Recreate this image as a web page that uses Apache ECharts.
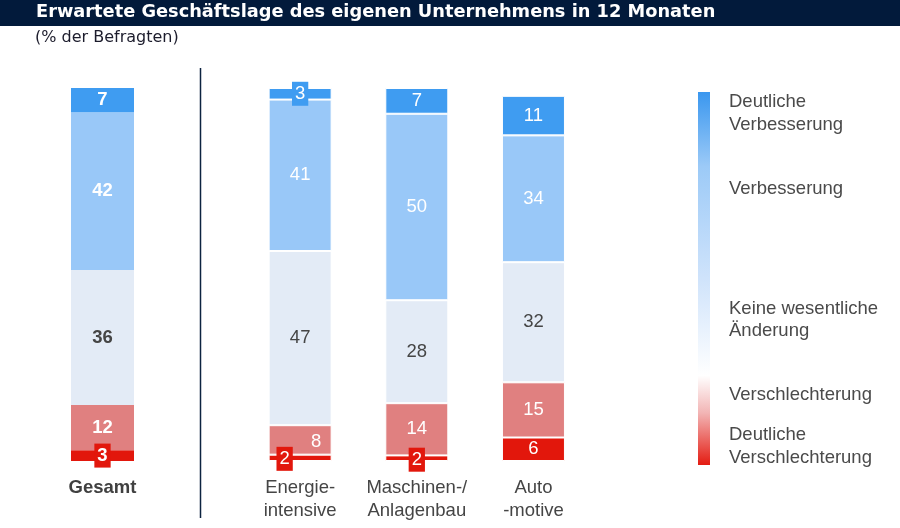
<!DOCTYPE html>
<html>
<head>
<meta charset="utf-8">
<script src="https://cdn.jsdelivr.net/npm/echarts@6/dist/echarts.min.js"></script>
<style>
  html, body { margin: 0; padding: 0; background: #fff; }
  #main { width: 900px; height: 528px; }
</style>
</head>
<body>
<div id="main"></div>
<script>
// categories: first is the overall bar, rest are the branches
var gesamtCategory = ['Gesamt'];
var branchCategories = ['Energie-\nintensive', 'Maschinen-/\nAnlagenbau', 'Auto\n-motive'];

// shares in % (Gesamt, Energieintensive, Maschinen-/Anlagenbau, Automotive)
var deutlichSchlechter = [2.9, 1.7, 1.5, 6.3];
var schlechter = [12.1, 7.9, 14.0, 14.8];
var keineAenderung = [36.2, 46.7, 27.6, 32.2];
var besser = [42.3, 40.6, 50.0, 34.0];
var deutlichBesser = [6.5, 3.1, 6.9, 10.6];

var legendLabels = ['Deutliche\nVerbesserung', 'Verbesserung', 'Keine wesentliche\nÄnderung', 'Verschlechterung', 'Deutliche\nVerschlechterung'];

var FONT = '"Liberation Sans", Arial, sans-serif';
var TITLE_FONT = '"DejaVu Sans", sans-serif';

var levels = [
    { key: 'ds', name: 'Deutliche Verschlechterung', data: deutlichSchlechter, color: '#e2170c', text: '#fff' },
    { key: 's', name: 'Verschlechterung', data: schlechter, color: '#e08080', text: '#fff' },
    { key: 'k', name: 'Keine wesentliche Änderung', data: keineAenderung, color: '#e3ebf6', text: '#454545' },
    { key: 'b', name: 'Verbesserung', data: besser, color: '#99c8f8', text: '#fff' },
    { key: 'db', name: 'Deutliche Verbesserung', data: deutlichBesser, color: '#3f9cf1', text: '#fff' }
];

// a few labels sit off-centre in the original
var labelOffsets = { 'ds-1': [-15.5, 1], 'ds-2': [0, 1.5], 's-1': [16, 2] };

var chart = echarts.init(document.getElementById('main'));

var makeItem = (lvl, i, bold) => {
    var v = lvl.data[i];
    var label = {
        show: true,
        position: 'inside',
        color: lvl.text,
        fontSize: 18.5,
        fontFamily: FONT,
        fontWeight: bold ? 'bold' : 'normal',
        formatter: () => String(Math.round(v))
    };
    if (v < 4) {
        label.backgroundColor = lvl.color;
        label.padding = [3, 3, 2, 3];
    }
    var off = labelOffsets[lvl.key + '-' + i];
    if (off) label.offset = off;
    return { value: v, label: label };
};

var series = [];
levels.forEach(lvl => {
    series.push({
        name: lvl.name,
        type: 'bar',
        stack: 'g',
        xAxisIndex: 0,
        yAxisIndex: 0,
        barWidth: 63,
        itemStyle: { color: lvl.color },
        data: [makeItem(lvl, 0, true)]
    });
    series.push({
        name: lvl.name,
        type: 'bar',
        stack: 'b',
        xAxisIndex: 1,
        yAxisIndex: 1,
        barWidth: 63,
        itemStyle: { color: lvl.color, borderColor: '#fff', borderWidth: 1 },
        data: [1, 2, 3].map(i => makeItem(lvl, i, false))
    });
});

var axisLabelBase = {
    fontSize: 18.5,
    fontFamily: FONT,
    lineHeight: 22.5,
    margin: 16,
    interval: 0
};

var legendText = [];
var ly = [113.5, 189, 320, 395, 446.5];
legendLabels.forEach((t, i) => {
    legendText.push({
        type: 'text',
        left: 729,
        top: ly[i] - (t.indexOf('\n') >= 0 ? 22.5 : 11.25),
        style: { text: t, fill: '#4a4a4a', font: '18.5px ' + FONT, lineHeight: 22.5 }
    });
});

var option = {
    animation: false,
    grid: [
        { left: 40, width: 125, top: 88, height: 373 },
        { left: 241.8, width: 350, top: 88, height: 373 }
    ],
    xAxis: [
        {
            type: 'category', gridIndex: 0, data: gesamtCategory,
            axisLine: { show: false }, axisTick: { show: false },
            axisLabel: Object.assign({}, axisLabelBase, { fontWeight: 'bold', color: '#404040' })
        },
        {
            type: 'category', gridIndex: 1, data: branchCategories,
            axisLine: { show: false }, axisTick: { show: false },
            axisLabel: Object.assign({}, axisLabelBase, { color: '#454545' })
        }
    ],
    yAxis: [
        { type: 'value', gridIndex: 0, min: 0, max: 100, show: false },
        { type: 'value', gridIndex: 1, min: 0, max: 100, show: false }
    ],
    series: series,
    graphic: [
        { type: 'rect', shape: { x: 0, y: 0, width: 900, height: 26 }, style: { fill: '#021a3b' } },
        {
            type: 'text', left: 36, top: 3,
            style: { text: 'Erwartete Geschäftslage des eigenen Unternehmens in 12 Monaten', fill: '#fff', font: 'bold 17.8px ' + TITLE_FONT }
        },
        {
            type: 'text', left: 35, top: 30,
            style: { text: '(% der Befragten)', fill: '#1c1c2c', font: '16px ' + TITLE_FONT }
        },
        { type: 'line', shape: { x1: 200.5, y1: 68, x2: 200.5, y2: 518 }, style: { stroke: '#0c2340', lineWidth: 1.5 } },
        {
            type: 'rect', shape: { x: 698, y: 92, width: 12, height: 373 },
            style: {
                fill: {
                    type: 'linear', x: 0, y: 0, x2: 0, y2: 1,
                    colorStops: [
                        { offset: 0, color: '#3a97ef' },
                        { offset: 0.2, color: '#9ccaf7' },
                        { offset: 0.5, color: '#cfe3fb' },
                        { offset: 0.76, color: '#ffffff' },
                        { offset: 0.86, color: '#f2b5b5' },
                        { offset: 1, color: '#e41c12' }
                    ]
                }
            }
        }
    ].concat(legendText)
};

chart.setOption(option);
</script>
</body>
</html>
